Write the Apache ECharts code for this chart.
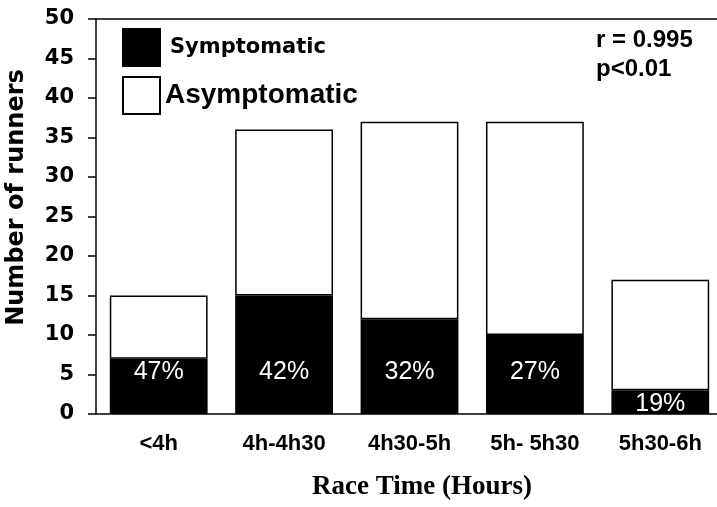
<!DOCTYPE html>
<html>
<head>
<meta charset="utf-8">
<script src="https://cdn.jsdelivr.net/npm/echarts@6/dist/echarts.min.js"></script>
<style>html,body{margin:0;padding:0;background:#fff}#c{width:717px;height:507px}</style>
</head>
<body>
<div id="c"></div>
<script>
var categories = ['<4h', '4h-4h30', '4h30-5h', '5h- 5h30', '5h30-6h'];
var symptomatic = [7, 15, 12, 10, 3];
var asymptomatic = [8, 21, 25, 27, 14];
var pctLabels = ['47%', '42%', '32%', '27%', '19%'];
var yTicks = [0, 5, 10, 15, 20, 25, 30, 35, 40, 45, 50];
var statsText = ['r = 0.995', 'p<0.01'];

var chart = echarts.init(document.getElementById('c'), null, {renderer: 'canvas'});
var option = {
  animation: false,
  backgroundColor: '#fff',
  grid: {left: 96, right: -6, top: 19, bottom: 93, containLabel: false, outerBoundsMode: 'none'},
  legend: {
    orient: 'vertical', left: 117, top: 23, itemWidth: 37, itemHeight: 37, itemGap: 9,
    icon: 'rect',
    data: [
      {name: 'Symptomatic', textStyle: {fontFamily: 'DejaVu Sans', fontWeight: 'bold', fontSize: 21, color: '#000', padding: [0, 0, 0, 5]}},
      {name: 'Asymptomatic', textStyle: {fontFamily: 'Liberation Sans', fontWeight: 'bold', fontSize: 28, color: '#000', padding: [0, 0, 0, 0]}}
    ]
  },
  xAxis: [{
    type: 'category', data: categories,
    axisLine: {lineStyle: {color: '#000', width: 1.5}},
    axisTick: {show: false},
    axisLabel: {fontFamily: 'Liberation Sans', fontWeight: 'bold', fontSize: 22, color: '#000', margin: 19, interval: 0},
    name: 'Race Time (Hours)', nameLocation: 'middle', nameGap: 60,
    nameTextStyle: {fontFamily: 'Liberation Serif', fontWeight: 'bold', fontSize: 27, color: '#000', padding: [0, 0, 0, 25]}
  }, {
    type: 'category', data: categories, position: 'top',
    axisLine: {show: true, lineStyle: {color: '#000', width: 1.5}},
    axisTick: {show: false}, axisLabel: {show: false}
  }],
  yAxis: {
    type: 'value', min: yTicks[0], max: yTicks[yTicks.length - 1], interval: 5,
    axisLine: {show: true, lineStyle: {color: '#000', width: 1.5}},
    axisTick: {show: true, length: 8, lineStyle: {color: '#000', width: 1.5}},
    splitLine: {show: false},
    axisLabel: {fontFamily: 'DejaVu Sans', fontWeight: 'bold', fontSize: 21, color: '#000', margin: 22},
    name: 'Number of runners', nameLocation: 'middle', nameGap: 67,
    nameTextStyle: {fontFamily: 'DejaVu Sans', fontWeight: 'bold', fontSize: 24, color: '#000', padding: [0, 0, 0, 38]}
  },
  series: [{
    name: 'Symptomatic', type: 'bar', stack: 'total', barWidth: '78%',
    itemStyle: {color: '#000', borderColor: '#000', borderWidth: 1.5},
    label: {
      show: true, position: 'insideBottom', color: '#fff',
      fontFamily: 'Liberation Sans', fontSize: 25,
      formatter: function (p) { return pctLabels[p.dataIndex]; }
    },
    data: symptomatic.map(function (v) {
      return {value: v, label: {distance: v >= 5 ? 29 : -3}};
    })
  }, {
    name: 'Asymptomatic', type: 'bar', stack: 'total', barWidth: '78%',
    itemStyle: {color: '#fff', borderColor: '#000', borderWidth: 1.5},
    data: asymptomatic
  }],
  graphic: [
    {type: 'text', left: 596, top: 28, style: {text: statsText[0], font: 'bold 24px "Liberation Sans"', fill: '#000'}},
    {type: 'text', left: 596, top: 57, style: {text: statsText[1], font: 'bold 24px "Liberation Sans"', fill: '#000'}}
  ]
};
chart.setOption(option);
</script>
</body>
</html>
